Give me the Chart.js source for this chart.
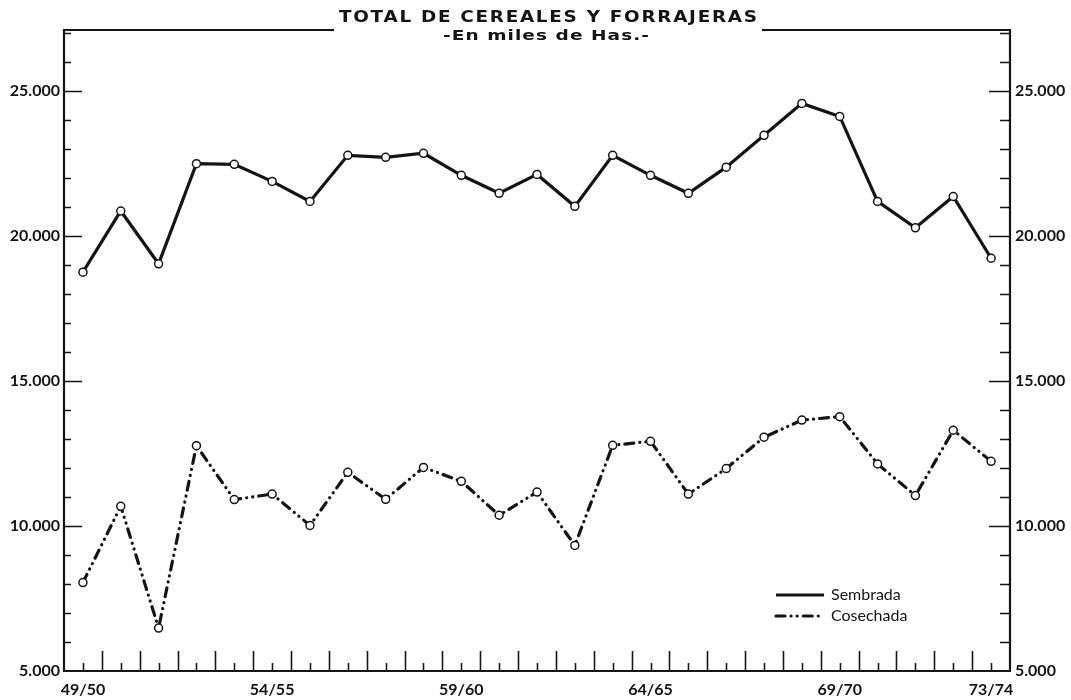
<!DOCTYPE html>
<html><head><meta charset="utf-8">
<script src="https://cdn.jsdelivr.net/npm/chart.js@4.4.0/dist/chart.umd.min.js"></script>
<style>html,body{margin:0;padding:0;background:#fff}#wrap{width:1071px;height:700px;position:relative}</style>
</head><body><div id="wrap"><canvas id="c" width="1071" height="700"></canvas></div>
<script>
const categories = ['49/50','50/51','51/52','52/53','53/54','54/55','55/56','56/57','57/58','58/59','59/60','60/61','61/62','62/63','63/64','64/65','65/66','66/67','67/68','68/69','69/70','70/71','71/72','72/73','73/74'];
const xTickLabels = ['49/50','54/55','59/60','64/65','69/70','73/74'];
const yTickValues = [5000,10000,15000,20000,25000];
const yTickLabels = ['5.000','10.000','15.000','20.000','25.000'];
const sembrada = [18750,20860,19040,22490,22470,21880,21190,22780,22710,22850,22090,21470,22120,21020,22780,22090,21470,22370,23470,24570,24120,21190,20280,21360,19230];
const cosechada = [8050,10680,6480,12770,10910,11100,10020,11850,10920,12020,11540,10370,11170,9330,12780,12920,11100,11980,13060,13650,13770,12140,11050,13300,12230];
const seriesNames = ['Sembrada','Cosechada'];
const titleText = 'TOTAL DE CEREALES Y FORRAJERAS';
const subtitleText = '-En miles de Has.-';

const INK = '#141414';
const TICK_FONT = {family:'Lato', size:16, weight:'bold'};
const TITLE_FONT = 'bold 16px "DejaVu Sans"';
const SUB_FONT = 'bold 14px "DejaVu Sans"';
const TITLE_W = 418, SUB_W = 206;

function drawFitted(ctx, font, spacing, target, text, cx, cy){
  ctx.save();
  ctx.font = font;
  ctx.letterSpacing = spacing + 'px';
  const w = ctx.measureText(text).width - spacing;
  const sx = target / w;
  ctx.translate(cx, cy);
  ctx.scale(sx, 1);
  ctx.textAlign = 'left'; ctx.textBaseline = 'middle';
  ctx.fillText(text, -w/2, 0);
  ctx.restore();
}

const framePlugin = {
  id:'frame',
  beforeDatasetsDraw(chart){
    const {ctx, chartArea:a, scales} = chart;
    const xs = scales.x, ys = scales.y;
    const cx = (a.left + a.right)/2 + 11;
    ctx.save();
    const gapL = cx - TITLE_W/2 - 5, gapR = cx + TITLE_W/2 + 5;
    ctx.strokeStyle = INK; ctx.lineWidth = 2.2; ctx.lineJoin='miter';
    ctx.beginPath();
    ctx.moveTo(gapL, a.top); ctx.lineTo(a.left, a.top); ctx.lineTo(a.left, a.bottom);
    ctx.lineTo(a.right, a.bottom); ctx.lineTo(a.right, a.top); ctx.lineTo(gapR, a.top);
    ctx.stroke();
    ctx.lineWidth = 1.6;
    ctx.beginPath();
    for (let v = 6000; v <= 27000; v += 1000){
      const py = Math.round(ys.getPixelForValue(v)) + 0.5;
      const major = v % 5000 === 0;
      ctx.moveTo(a.left, py); ctx.lineTo(a.left + (major ? 18 : 7), py);
      ctx.moveTo(a.right, py); ctx.lineTo(a.right - (major ? 21 : 10), py);
    }
    for (let i = 0; i < categories.length; i++){
      const px = Math.round(xs.getPixelForValue(i)) + 0.5;
      ctx.moveTo(px, a.bottom); ctx.lineTo(px, a.bottom - 8);
      if (i < categories.length - 1){
        const pm = Math.round((xs.getPixelForValue(i) + xs.getPixelForValue(i+1))/2) + 0.5;
        ctx.moveTo(pm, a.bottom); ctx.lineTo(pm, a.bottom - 20);
      }
    }
    ctx.stroke();
    ctx.restore();
  },
  afterDraw(chart){
    const {ctx, chartArea:a} = chart;
    const cx = (a.left + a.right)/2 + 11;
    ctx.save();
    ctx.fillStyle = INK;
    drawFitted(ctx, TITLE_FONT, 1.5, TITLE_W, titleText, cx, 18);
    drawFitted(ctx, SUB_FONT, 0.8, SUB_W, subtitleText, cx - 2, 36);
    // legend
    const ys0 = [595, 616];
    chart.data.datasets.forEach((ds, k) => {
      const y = ys0[k];
      ctx.strokeStyle = ds.borderColor; ctx.lineWidth = ds.borderWidth;
      ctx.lineCap = ds.borderCapStyle || 'butt';
      ctx.setLineDash(ds.borderDash || []);
      ctx.beginPath(); ctx.moveTo(776, y); ctx.lineTo(824, y); ctx.stroke();
      ctx.setLineDash([]);
      ctx.fillStyle = INK;
      ctx.font = '16px Lato';
      ctx.textAlign = 'left'; ctx.textBaseline = 'middle';
      ctx.fillText(ds.label, 831, y);
    });
    ctx.restore();
  }
};

const yAxisBase = (pos, width, pad) => ({
  position: pos, min: 5000, max: 27100,
  afterBuildTicks(s){ s.ticks = yTickValues.map(v => ({value:v})); },
  afterFit(s){ s.width = width; },
  grid:{display:false, drawTicks:false}, border:{display:false},
  ticks:{ padding: pad, color: INK, font: TICK_FONT,
    callback(v){ const k = yTickValues.indexOf(v); return k >= 0 ? yTickLabels[k] : ''; } }
});

new Chart(document.getElementById('c'), {
  type:'line',
  data:{
    labels: categories,
    datasets:[
      {label: seriesNames[0], data: sembrada, borderColor: INK, borderWidth: 3.2,
       pointRadius: 4, pointBackgroundColor:'#fff', pointBorderColor: INK, pointBorderWidth: 1.5,
       tension: 0, yAxisID:'y'},
      {label: seriesNames[1], data: cosechada, borderColor: INK, borderWidth: 3.2,
       borderDash:[9,6,0.1,6,0.1,6], borderCapStyle:'round',
       pointRadius: 4, pointBackgroundColor:'#fff', pointBorderColor: INK, pointBorderWidth: 1.5,
       tension: 0, yAxisID:'y'}
    ]
  },
  options:{
    responsive:false, animation:false, devicePixelRatio:1,
    layout:{padding:{top:30, left:0, right:0, bottom:0}},
    plugins:{legend:{display:false}, title:{display:false}, tooltip:{enabled:false}},
    scales:{
      x:{type:'category', offset:true, grid:{display:false, drawTicks:false}, border:{display:false},
         afterFit(s){ s.height = 29; },
         ticks:{autoSkip:false, maxRotation:0, padding:9, color: INK, font: TICK_FONT,
           callback(v, i){ const l = categories[i]; return xTickLabels.includes(l) ? l : ''; }}},
      y: yAxisBase('left', 64, 4),
      y2: yAxisBase('right', 61, 5)
    }
  },
  plugins:[framePlugin]
});
</script></body></html>
